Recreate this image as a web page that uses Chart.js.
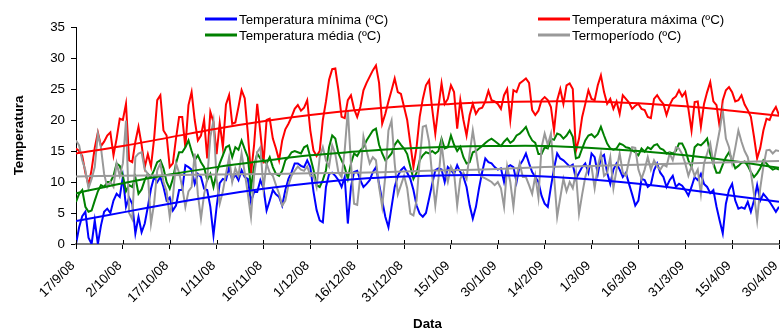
<!DOCTYPE html>
<html>
<head>
<meta charset="utf-8">
<script src="https://cdn.jsdelivr.net/npm/chart.js@4"></script>
<style>
  html, body { margin: 0; padding: 0; background: #fff; }
  #temps { display: block; }
</style>
</head>
<body>
<canvas id="temps" width="780" height="332"></canvas>
<script>
// tick labels, one every 15 days
const dateTicks = ['17/9/08', '2/10/08', '17/10/08', '1/11/08', '16/11/08', '1/12/08', '16/12/08', '31/12/08',
  '15/1/09', '30/1/09', '14/2/09', '1/3/09', '16/3/09', '31/3/09', '15/4/09', '30/4/09'];

// daily values, 17/9/08 .. 30/4/09 (226 days)
const tMin = [
  0.0, 2.7, 4.5, 5.2, 1.0, 0.0, 3.8, 0.0, 3.0, 5.2,
  5.7, 5.0, 7.0, 8.1, 7.6, 10.8, 6.0, 7.5, 6.5, 1.7,
  4.4, 1.9, 3.3, 6.0, 8.9, 10.8, 10.0, 10.8, 9.2, 7.0,
  7.5, 5.4, 6.2, 8.7, 8.7, 12.7, 12.4, 12.0, 9.7, 11.3,
  10.8, 8.9, 8.7, 6.0, 1.4, 6.0, 9.8, 10.5, 10.3, 12.4,
  10.3, 11.2, 10.3, 11.9, 10.8, 10.5, 6.8, 8.4, 8.4, 10.3,
  9.0, 5.4, 7.0, 8.7, 8.0, 7.6, 6.2, 8.7, 10.5, 11.6,
  13.0, 13.0, 12.6, 12.4, 13.5, 12.4, 8.5, 5.5, 3.8, 3.5,
  9.2, 11.3, 11.5, 11.0, 10.3, 9.2, 10.8, 3.3, 9.2, 11.6,
  11.8, 10.3, 9.2, 9.7, 10.3, 11.6, 12.4, 9.7, 7.0, 4.4,
  2.7, 6.0, 9.2, 11.0, 11.9, 12.4, 11.5, 10.5, 8.7, 6.2,
  4.9, 4.4, 5.0, 7.3, 9.7, 11.9, 12.2, 12.0, 10.0, 12.4,
  11.9, 11.3, 12.7, 11.6, 10.8, 9.2, 6.2, 4.1, 6.0, 9.0,
  11.6, 13.8, 13.2, 13.0, 12.4, 12.0, 12.2, 10.0, 12.4, 12.7,
  12.4, 10.0, 12.7, 13.5, 14.6, 13.0, 11.6, 10.8, 10.0, 7.8,
  6.5, 6.0, 9.2, 12.2, 14.6, 13.8, 13.5, 13.0, 12.5, 12.8,
  10.5, 11.5, 12.4, 13.0, 11.5, 14.6, 14.0, 11.3, 14.0, 14.4,
  11.5, 9.7, 12.0, 13.0, 12.0, 10.8, 11.5, 9.7, 8.0, 6.2,
  7.0, 10.5, 10.3, 9.2, 9.6, 11.9, 13.0, 11.5, 10.8, 9.2,
  10.3, 11.0, 9.2, 9.7, 9.4, 8.7, 7.8, 9.2, 10.8, 10.3,
  11.3, 9.7, 9.2, 8.2, 8.7, 6.0, 3.8, 1.7, 6.5, 8.7,
  9.7, 7.0, 5.7, 5.9, 5.7, 6.8, 5.2, 7.0, 9.5, 7.0,
  8.1, 7.5, 6.8, 6.0, 5.2, 6.0
];

const tMax = [
  15.4, 15.0, 14.2, 11.5, 9.5, 12.0, 15.5, 18.0, 15.8, 16.5,
  17.5, 18.0, 14.3, 17.0, 20.2, 20.0, 22.6, 13.5, 13.2, 16.5,
  18.9, 16.0, 12.4, 14.5, 12.5, 17.0, 23.2, 24.0, 18.3, 17.5,
  12.4, 13.0, 17.0, 20.5, 20.5, 15.6, 22.4, 24.5, 20.0, 16.7,
  17.5, 20.0, 13.8, 21.3, 19.7, 14.5, 19.5, 15.6, 22.5, 24.0,
  19.4, 19.6, 22.1, 24.8, 23.5, 17.8, 11.3, 16.0, 22.6, 18.0,
  13.0, 20.0, 20.2, 17.0, 15.4, 13.5, 16.7, 18.5, 19.4, 20.5,
  21.8, 22.4, 21.5, 22.0, 23.2, 18.3, 15.1, 14.2, 15.0, 20.0,
  23.0, 26.5, 28.2, 28.3, 24.8, 20.5, 20.3, 23.2, 24.0, 21.8,
  20.5, 22.1, 24.8, 26.0, 27.0, 28.0, 28.8, 26.0, 19.4, 21.0,
  23.0, 24.8, 26.7, 24.5, 24.2, 22.1, 20.0, 16.2, 12.4, 15.6,
  20.5, 23.4, 25.6, 26.4, 21.8, 17.8, 22.1, 25.9, 22.6, 23.4,
  25.6, 24.5, 18.6, 23.2, 20.0, 17.5, 20.8, 22.6, 21.0, 21.8,
  22.0, 23.0, 24.7, 23.2, 23.0, 22.6, 21.8, 24.0, 25.0, 20.0,
  24.8, 24.5, 25.9, 26.3, 26.7, 26.0, 21.6, 20.8, 21.5, 23.2,
  23.7, 23.2, 22.1, 18.3, 23.2, 25.0, 22.6, 25.6, 25.9, 25.0,
  15.0, 17.0, 20.5, 22.6, 24.8, 23.4, 23.2, 25.6, 27.2, 24.5,
  22.6, 23.4, 21.8, 23.0, 21.0, 24.0, 23.4, 22.8, 21.8, 22.3,
  22.6, 21.8, 21.6, 20.5, 20.3, 23.4, 24.0, 23.2, 22.6, 20.8,
  22.4, 23.4, 23.8, 24.8, 23.8, 24.5, 21.8, 18.3, 22.9, 23.0,
  18.9, 22.6, 24.5, 26.1, 23.0, 22.4, 18.9, 23.2, 24.8, 25.3,
  24.5, 23.0, 23.2, 24.0, 22.5, 21.6, 20.5, 17.3, 13.8, 15.5,
  18.3, 20.2, 20.0, 21.3, 22.1, 20.8
];

const tMean = [
  6.8, 8.1, 8.7, 6.0, 5.2, 5.4, 7.0, 8.5, 9.5, 9.2,
  10.0, 10.0, 11.0, 13.0, 12.6, 11.0, 8.5, 9.5, 9.2, 10.8,
  8.1, 8.8, 10.3, 11.3, 10.8, 11.9, 13.2, 13.5, 12.2, 10.0,
  8.9, 10.5, 13.0, 14.8, 14.8, 15.6, 16.7, 15.0, 13.5, 14.3,
  13.2, 12.4, 10.3, 11.3, 9.2, 11.5, 13.0, 14.3, 15.6, 15.9,
  14.0, 15.6, 15.2, 16.7, 15.3, 14.0, 9.0, 12.5, 14.6, 13.8,
  13.5, 13.0, 14.0, 12.4, 11.3, 11.0, 11.8, 13.5, 14.0, 14.8,
  15.0, 14.8, 14.6, 15.6, 15.9, 14.0, 12.0, 9.5, 9.2, 10.3,
  11.9, 15.6, 17.5, 17.0, 14.6, 13.5, 12.4, 10.5, 13.0, 14.6,
  14.2, 15.1, 15.6, 16.7, 17.5, 18.3, 18.6, 16.0, 14.6, 13.5,
  14.0, 14.6, 16.0, 16.7, 16.0, 15.4, 14.5, 12.5, 10.5, 11.5,
  13.5, 14.3, 14.8, 14.6, 15.0, 14.6, 15.0, 17.0, 15.4, 15.6,
  17.5, 16.0, 15.0, 15.7, 14.0, 13.0, 13.2, 14.8, 15.0, 15.4,
  15.8, 16.3, 16.7, 17.0, 16.6, 16.2, 15.8, 16.5, 17.0, 16.3,
  16.7, 17.5, 17.8, 18.3, 18.9, 17.6, 16.7, 16.3, 14.5, 14.5,
  15.6, 15.4, 17.0, 16.8, 17.8, 17.6, 17.0, 17.5, 18.3, 17.3,
  13.8, 14.0, 15.4, 16.7, 17.5, 17.7, 17.2, 17.7, 18.9, 17.5,
  16.2, 15.4, 15.2, 15.4, 16.2, 16.0, 15.6, 15.5, 15.1, 14.8,
  14.3, 15.4, 14.9, 15.6, 15.3, 15.9, 16.1, 15.4, 15.2, 14.6,
  14.8, 14.6, 15.0, 16.2, 16.2, 15.2, 13.5, 12.4, 15.6, 16.1,
  15.9, 16.4, 17.0, 14.5, 13.0, 11.5, 11.5, 12.8, 14.0, 14.8,
  13.5, 12.2, 12.6, 13.1, 13.3, 12.6, 11.6, 10.8, 11.4, 12.2,
  13.5, 13.0, 12.4, 12.0, 12.2, 12.0
];

const thermo = [
  16.7, 15.9, 13.5, 11.9, 9.0, 10.5, 12.4, 17.8, 15.5, 11.3,
  9.2, 10.0, 9.2, 13.0, 11.0, 13.0, 19.9, 5.0, 4.0, 14.0,
  14.6, 14.8, 12.0, 11.3, 3.3, 6.5, 11.9, 13.0, 10.0, 8.5,
  4.4, 7.5, 13.0, 11.5, 9.2, 6.0, 8.5, 9.2, 14.6, 8.0,
  4.1, 8.0, 10.5, 17.3, 19.9, 10.5, 6.5, 8.5, 11.3, 14.0,
  10.0, 12.2, 11.0, 14.6, 11.5, 8.1, 4.4, 11.0, 14.8, 15.6,
  9.0, 13.0, 11.5, 11.0, 9.5, 8.1, 6.2, 7.0, 9.5, 11.0,
  11.8, 12.5, 12.0, 11.8, 12.5, 11.0, 11.0, 9.2, 14.0, 15.6,
  13.5, 12.5, 15.9, 14.5, 11.5, 10.8, 15.1, 21.6, 13.0, 6.5,
  6.3, 11.0, 17.3, 15.0, 13.0, 14.0, 13.5, 9.2, 6.0, 11.0,
  18.3, 19.9, 13.0, 8.0, 9.5, 11.0, 9.0, 4.9, 4.6, 7.0,
  13.5, 18.9, 19.1, 16.5, 11.0, 6.2, 10.5, 16.2, 12.0, 10.0,
  12.5, 11.5, 6.2, 10.5, 11.5, 10.5, 14.6, 18.3, 15.0, 11.5,
  10.8, 10.6, 10.3, 10.0, 9.5, 10.0, 9.0, 6.0, 12.5, 10.0,
  6.0, 11.0, 13.0, 10.8, 10.8, 9.5, 8.1, 11.0, 7.5, 15.6,
  17.8, 16.0, 17.8, 11.0, 4.4, 7.5, 10.5, 8.5, 10.0, 9.0,
  11.5, 4.9, 8.0, 10.8, 12.5, 12.5, 9.0, 12.5, 14.6, 11.0,
  11.5, 14.0, 9.0, 12.0, 14.6, 11.5, 11.0, 13.5, 15.6, 15.5,
  12.0, 10.5, 12.0, 14.0, 12.0, 13.5, 12.5, 12.0, 12.8, 12.5,
  14.6, 13.5, 15.6, 15.4, 14.5, 13.0, 11.0, 12.5, 11.0, 12.0,
  8.1, 13.0, 14.6, 16.2, 13.0, 15.6, 18.3, 21.6, 17.0, 15.6,
  13.0, 15.5, 18.3, 16.5, 15.0, 14.0, 11.5, 8.0, 3.8, 9.0,
  12.5, 15.1, 15.2, 14.6, 15.1, 15.0
];

// trend lines, read at each labelled date
const trendDays = [0, 15, 30, 45, 60, 75, 90, 105, 120, 135, 150, 165, 180, 195, 210, 225];
const minTrend = [3.7, 5.1, 6.5, 7.8, 8.9, 9.8, 10.5, 10.9, 11.1, 11.1, 10.9, 10.4, 9.7, 8.8, 7.8, 6.8];
const maxTrend = [14.6, 15.8, 17.2, 18.6, 19.8, 20.8, 21.6, 22.2, 22.6, 22.9, 23.0, 23.0, 22.7, 22.2, 21.5, 20.7];
const meanTrend = [8.2, 9.8, 11.2, 12.4, 13.4, 14.3, 14.9, 15.4, 15.7, 15.8, 15.8, 15.5, 15.0, 14.3, 13.4, 12.3];
const thermoTrend = [10.9, 11.0, 11.1, 11.2, 11.3, 11.4, 11.5, 11.7, 11.9, 12.1, 12.4, 12.6, 12.8, 13.0, 13.2, 13.4];

const days = tMin.map((v, i) => i);
const FONT = '"Liberation Sans", Arial, sans-serif';

Chart.defaults.font.family = FONT;
Chart.defaults.font.size = 13.33;
Chart.defaults.color = '#000';

function serie(label, values, color, order) {
  return { label, data: values, borderColor: color, borderWidth: 2, pointRadius: 0, tension: 0, order };
}

function trend(values, color, order) {
  return {
    label: '',
    data: trendDays.map((d, i) => ({ x: d, y: values[i] })),
    borderColor: color, borderWidth: 2, pointRadius: 0, tension: 0.4, order
  };
}

// legend in two rows over the top of the plot
const legendBox = {
  id: 'legendBox',
  afterDraw(chart) {
    const ctx = chart.ctx;
    const spots = [[205, 19], [538, 19], [205, 35], [538, 35]];
    ctx.save();
    ctx.font = '13.33px ' + FONT;
    ctx.textBaseline = 'middle';
    chart.data.datasets.slice(0, 4).forEach((ds, i) => {
      const [x, y] = spots[i];
      ctx.strokeStyle = ds.borderColor;
      ctx.lineWidth = 3;
      ctx.beginPath();
      ctx.moveTo(x, y);
      ctx.lineTo(x + 32, y);
      ctx.stroke();
      ctx.fillStyle = '#000';
      ctx.fillText(ds.label, x + 34, y + 1);
    });
    ctx.restore();
  }
};

// short tick marks poking above the x axis line, like the original
const xTickTops = {
  id: 'xTickTops',
  afterDraw(chart) {
    const sx = chart.scales.x;
    const ctx = chart.ctx;
    ctx.save();
    ctx.strokeStyle = '#000';
    ctx.lineWidth = 1;
    sx.ticks.forEach(t => {
      const px = Math.round(sx.getPixelForValue(t.value)) + 0.5;
      ctx.beginPath();
      ctx.moveTo(px, sx.top - 4);
      ctx.lineTo(px, sx.top);
      ctx.stroke();
    });
    ctx.restore();
  }
};

new Chart(document.getElementById('temps'), {
  type: 'line',
  data: {
    labels: days,
    datasets: [
      serie('Temperatura mínima (ºC)', tMin, '#0000ff', 8),
      serie('Temperatura máxima (ºC)', tMax, '#ff0000', 7),
      serie('Temperatura média (ºC)', tMean, '#008000', 6),
      serie('Termoperíodo (ºC)', thermo, '#999999', 5),
      trend(minTrend, '#0000ff', 4),
      trend(maxTrend, '#ff0000', 3),
      trend(meanTrend, '#008000', 2),
      trend(thermoTrend, '#999999', 1)
    ]
  },
  options: {
    responsive: false,
    animation: false,
    devicePixelRatio: 1,
    layout: { padding: { top: 27, right: 1, bottom: 0, left: 0 } },
    scales: {
      x: {
        type: 'linear',
        min: 0,
        max: 225,
        afterBuildTicks: s => { s.ticks = dateTicks.map((t, i) => ({ value: i * 15 })); },
        afterFit: s => { s.height = 88; s.paddingLeft = 0; s.paddingRight = 0; },
        ticks: {
          autoSkip: false,
          maxRotation: 45,
          minRotation: 45,
          padding: 9,
          labelOffset: -3,
          callback: v => dateTicks[Math.round(v / 15)]
        },
        grid: { drawOnChartArea: false, color: '#000', tickLength: 5 },
        border: { color: '#808080', width: 2 },
        title: { display: true, text: 'Data', font: { weight: 'bold' }, padding: { top: 0, bottom: 0 } }
      },
      y: {
        min: 0,
        max: 35,
        afterFit: s => { s.width = 76; },
        ticks: { stepSize: 5, padding: 6 },
        grid: { drawOnChartArea: false, color: '#000', tickLength: 5 },
        border: { color: '#000', width: 1 },
        title: { display: true, text: 'Temperatura', font: { weight: 'bold' }, padding: { top: 11, bottom: 0 } }
      }
    },
    plugins: {
      legend: { display: false },
      tooltip: { enabled: false }
    }
  },
  plugins: [legendBox, xTickTops]
});
</script>
</body>
</html>
